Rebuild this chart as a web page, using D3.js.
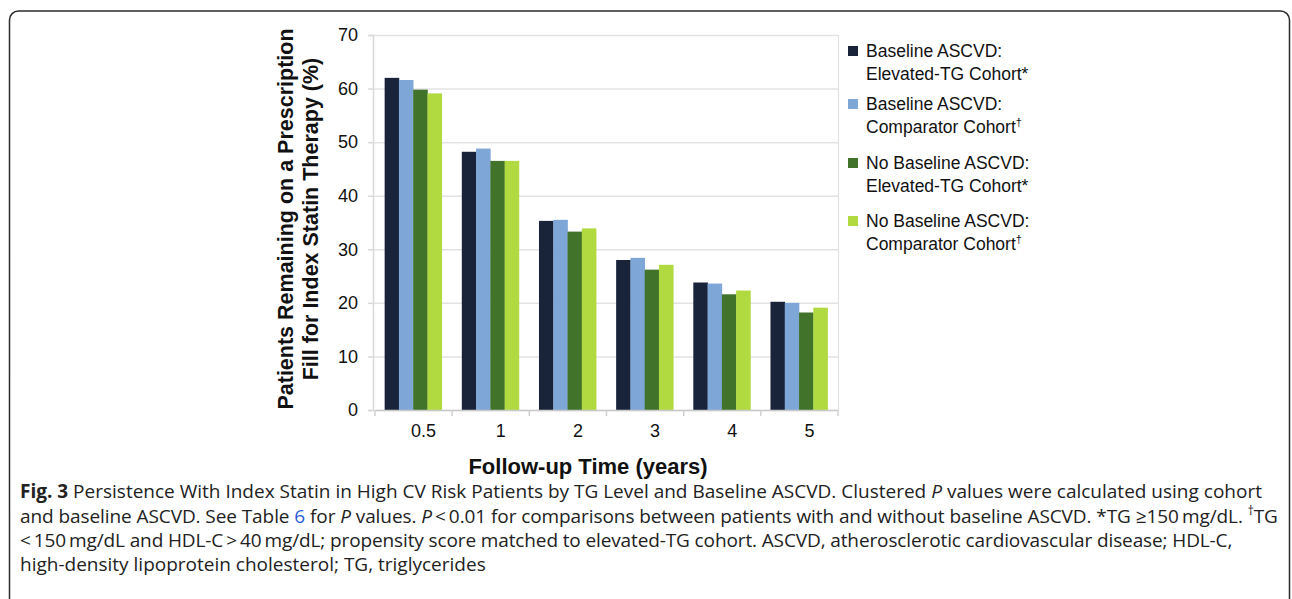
<!DOCTYPE html>
<html>
<head>
<meta charset="utf-8">
<script src="https://cdn.jsdelivr.net/npm/d3@7"></script>
<style>
  html, body { margin: 0; padding: 0; background: #fff; }
  svg { display: block; }
</style>
</head>
<body>
<svg id="chart" width="1292" height="599"></svg>
<script>
const categories = ["0.5", "1", "2", "3", "4", "5"];
const seriesNames = [
  ["Baseline ASCVD:", "Elevated-TG Cohort*"],
  ["Baseline ASCVD:", "Comparator Cohort\u2020"],
  ["No Baseline ASCVD:", "Elevated-TG Cohort*"],
  ["No Baseline ASCVD:", "Comparator Cohort\u2020"]
];
const baselineElevated   = [62.0, 48.2, 35.3, 28.0, 23.8, 20.2];
const baselineComparator = [61.6, 48.8, 35.5, 28.4, 23.6, 20.0];
const noBaselineElevated = [59.8, 46.5, 33.3, 26.2, 21.6, 18.2];
const noBaselineComparator = [59.1, 46.5, 33.9, 27.1, 22.3, 19.1];
const yTicks = [0, 10, 20, 30, 40, 50, 60, 70];
const colors = ["#19233a", "#7ea6d7", "#41742a", "#b0da40"];

const seriesValues = [baselineElevated, baselineComparator, noBaselineElevated, noBaselineComparator];

const svg = d3.select("#chart");
const sans = "'Liberation Sans', Arial, sans-serif";
const capFont = "'Open Sans', 'Noto Sans', sans-serif";

// card border
svg.append("rect")
  .attr("x", 9.5).attr("y", 11)
  .attr("width", 1280).attr("height", 640)
  .attr("rx", 9).attr("ry", 9)
  .attr("fill", "none").attr("stroke", "#2b2b2b").attr("stroke-width", 1.5);

const pLeft = 375, pRight = 838, pTop = 35, pBottom = 410;
const y = d3.scaleLinear().domain([0, 70]).range([pBottom, pTop]);
const x0 = d3.scaleBand().domain(categories).range([pLeft, pRight]).padding(0);
const bw = x0.bandwidth();
const x1 = d3.scaleBand().domain(d3.range(4)).range([bw * 0.125, bw * 0.865]).padding(0);

// gridlines
svg.append("g").selectAll("line").data(yTicks).join("line")
  .attr("x1", pLeft - 2).attr("x2", pRight)
  .attr("y1", d => y(d) + 0.5).attr("y2", d => y(d) + 0.5)
  .attr("stroke", "#e3e3e3").attr("stroke-width", 1.5);

// right frame line
svg.append("line")
  .attr("x1", pRight + 0.5).attr("x2", pRight + 0.5)
  .attr("y1", pTop).attr("y2", pBottom)
  .attr("stroke", "#e3e3e3").attr("stroke-width", 1.2);

// y axis
const yAxis = svg.append("g")
  .attr("transform", `translate(${pLeft - 2},0)`)
  .call(d3.axisLeft(y).tickValues(yTicks).tickSize(5).tickPadding(10));
yAxis.select(".domain").attr("stroke", "#d9d9d9").attr("stroke-width", 1.5);
yAxis.selectAll(".tick line").attr("stroke", "#d9d9d9").attr("stroke-width", 1.5);
yAxis.selectAll(".tick text").attr("font-size", 18).attr("fill", "#111")
  .attr("font-family", sans);

// bars
const groups = svg.append("g").selectAll("g").data(categories).join("g")
  .attr("transform", d => `translate(${x0(d)},0)`);
groups.selectAll("rect")
  .data((c, i) => seriesValues.map((s, k) => ({ k, v: s[i] })))
  .join("rect")
  .attr("x", d => x1(d.k))
  .attr("width", x1.bandwidth() + 0.3)
  .attr("y", d => y(d.v))
  .attr("height", d => y(0) - y(d.v))
  .attr("fill", d => colors[d.k]);

// x axis
const xAxis = svg.append("g")
  .attr("transform", `translate(0,${pBottom})`)
  .call(d3.axisBottom(x0).tickSize(0).tickPadding(14));
xAxis.select(".domain").attr("stroke", "#c9c9c9").attr("stroke-width", 1.5);
xAxis.selectAll(".tick text").attr("font-size", 18).attr("fill", "#111")
  .attr("dx", 10).attr("font-family", sans);
// boundary ticks
svg.append("g").selectAll("line")
  .data(categories.map(c => x0(c)).concat([x0(categories[categories.length - 1]) + bw]))
  .join("line")
  .attr("x1", d => d).attr("x2", d => d)
  .attr("y1", pBottom).attr("y2", pBottom + 6)
  .attr("stroke", "#d0d0d0").attr("stroke-width", 1.5);

// axis titles
svg.append("text")
  .attr("x", 588).attr("y", 474)
  .attr("text-anchor", "middle")
  .attr("font-family", sans).attr("font-weight", "bold").attr("font-size", 22)
  .attr("fill", "#111")
  .text("Follow-up Time (years)");

const yTitle = svg.append("text")
  .attr("transform", "rotate(-90)")
  .attr("text-anchor", "middle")
  .attr("font-family", sans).attr("font-weight", "bold").attr("font-size", 21.5)
  .attr("fill", "#111");
yTitle.append("tspan").attr("x", -219).attr("y", 293).text("Patients Remaining on a Prescription");
yTitle.append("tspan").attr("x", -219).attr("y", 318).text("Fill for Index Statin Therapy (%)");

// legend
const legendTops = [46, 99, 158, 216];
const legend = svg.append("g").selectAll("g").data(seriesNames).join("g")
  .attr("transform", (d, i) => `translate(848,${legendTops[i]})`);
legend.append("rect").attr("width", 10).attr("height", 10)
  .attr("fill", (d, i) => colors[i]);
legend.each(function (d) {
  const t = d3.select(this).append("text")
    .attr("font-family", sans).attr("font-size", 17.5).attr("fill", "#111");
  t.append("tspan").attr("x", 18).attr("y", 11).text(d[0]);
  const l2 = d[1];
  if (l2.endsWith("\u2020")) {
    t.append("tspan").attr("x", 18).attr("y", 34).text(l2.slice(0, -1));
    t.append("tspan").attr("font-size", 11).attr("dy", -7).text("\u2020");
  } else {
    t.append("tspan").attr("x", 18).attr("y", 34).text(l2);
  }
});

// caption
const cap = svg.append("text")
  .attr("font-family", capFont).attr("font-size", 19).attr("fill", "#222");
const capLines = [
  [["b", "Fig. 3"], ["n", " Persistence With Index Statin in High CV Risk Patients by TG Level and Baseline ASCVD. Clustered "], ["i", "P"], ["n", " values were calculated using cohort"]],
  [["n", "and baseline ASCVD. See Table "], ["a", "6"], ["n", " for "], ["i", "P"], ["n", " values. "], ["i", "P"], ["n", "\u2009<\u20090.01 for comparisons between patients with and without baseline ASCVD. *TG \u2265150\u2009mg/dL. "], ["s", "\u2020"], ["n", "TG"]],
  [["n", "<\u2009150\u2009mg/dL and HDL-C\u2009>\u200940\u2009mg/dL; propensity score matched to elevated-TG cohort. ASCVD, atherosclerotic cardiovascular disease; HDL-C,"]],
  [["n", "high-density lipoprotein cholesterol; TG, triglycerides"]]
];
const capY = [498, 523, 547, 571];
const capSpacing = [0, -0.08, -0.12, 0];
capLines.forEach((line, li) => {
  line.forEach((seg, si) => {
    const ts = cap.append("tspan").text(seg[1]).attr("letter-spacing", capSpacing[li]);
    if (si === 0) ts.attr("x", 20).attr("y", capY[li]);
    if (seg[0] === "b") ts.attr("font-weight", "bold");
    if (seg[0] === "i") ts.attr("font-style", "italic");
    if (seg[0] === "a") ts.attr("fill", "#2a5bd7");
    if (seg[0] === "s") ts.attr("font-size", 12).attr("dy", -8);
    if (si > 0 && line[si - 1][0] === "s") ts.attr("dy", 8);
  });
});
</script>
</body>
</html>
